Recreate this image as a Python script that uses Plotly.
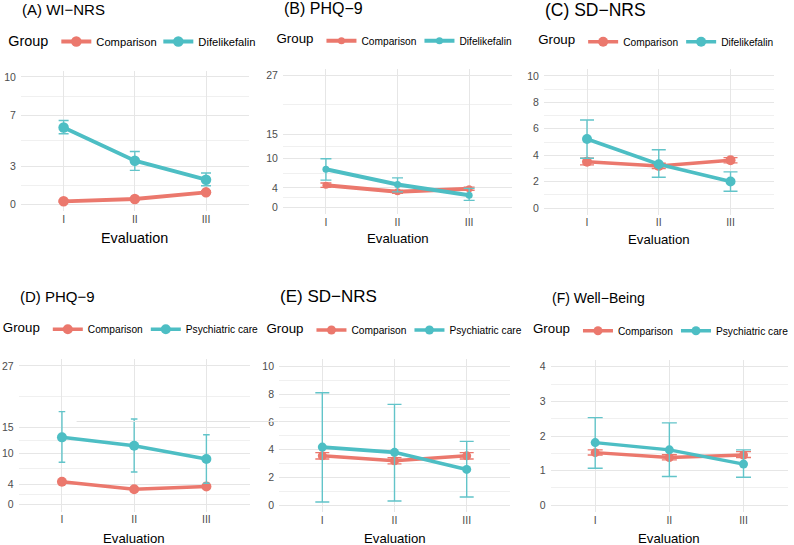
import plotly.graph_objects as go

W, H = 794, 545
evals = ["I", "II", "III"]

# ---- data (means and CI bounds) ----
A_cmp = [0.26, 0.44, 0.96]; A_cmp_lo = [0.18, 0.36, 0.86]; A_cmp_hi = [0.34, 0.52, 1.06]
A_dif = [6.04, 3.44, 1.95]; A_dif_lo = [5.55, 2.68, 1.48]; A_dif_hi = [6.59, 4.16, 2.48]

B_cmp = [4.55, 3.2, 3.8]; B_cmp_lo = [4.1, 2.9, 3.5]; B_cmp_hi = [5.0, 3.45, 4.15]
B_dif = [7.8, 4.69, 2.5]; B_dif_lo = [5.57, 3.18, 1.43]; B_dif_hi = [9.95, 6.04, 3.88]

C_cmp = [3.51, 3.19, 3.62]; C_cmp_lo = [3.27, 3.0, 3.42]; C_cmp_hi = [3.77, 3.39, 3.82]
C_dif = [5.23, 3.32, 2.01]; C_dif_lo = [3.77, 2.34, 1.28]; C_dif_hi = [6.66, 4.42, 2.74]

D_cmp = [4.47, 3.0, 3.55]; D_cmp_lo = [4.2, 2.75, 3.3]; D_cmp_hi = [4.75, 3.25, 3.8]
D_psy = [13.1, 11.48, 8.89]; D_psy_lo = [8.25, 6.36, 4.16]; D_psy_hi = [18.1, 16.67, 13.62]

E_cmp = [3.55, 3.19, 3.55]; E_cmp_lo = [3.32, 2.97, 3.32]; E_cmp_hi = [3.78, 3.41, 3.78]
E_psy = [4.18, 3.8, 2.57]; E_psy_lo = [0.22, 0.29, 0.58]; E_psy_hi = [8.1, 7.26, 4.59]

F_cmp = [1.52, 1.38, 1.45]; F_cmp_lo = [1.45, 1.31, 1.38]; F_cmp_hi = [1.6, 1.46, 1.55]
F_psy = [1.81, 1.6, 1.19]; F_psy_lo = [1.07, 0.83, 0.81]; F_psy_hi = [2.53, 2.38, 1.6]

titles = ["(A) WI\u2212NRS", "(B) PHQ\u22129", "(C) SD\u2212NRS",
          "(D) PHQ\u22129", "(E) SD\u2212NRS", "(F) Well\u2212Being"]
group2 = ["Difelikefalin"] * 3 + ["Psychiatric care"] * 3

y_ticks = [[0, 3, 7, 10], [0, 4, 10, 15, 27], [0, 2, 4, 6, 8, 10],
           [0, 4, 10, 15, 27], [0, 2, 4, 6, 8, 10], [0, 1, 2, 3, 4]]
y_limits = [(0, 10), (0, 27), (0, 10), (0, 27), (0, 10), (0, 4)]

panels = [
    (A_cmp, A_cmp_lo, A_cmp_hi, A_dif, A_dif_lo, A_dif_hi),
    (B_cmp, B_cmp_lo, B_cmp_hi, B_dif, B_dif_lo, B_dif_hi),
    (C_cmp, C_cmp_lo, C_cmp_hi, C_dif, C_dif_lo, C_dif_hi),
    (D_cmp, D_cmp_lo, D_cmp_hi, D_psy, D_psy_lo, D_psy_hi),
    (E_cmp, E_cmp_lo, E_cmp_hi, E_psy, E_psy_lo, E_psy_hi),
    (F_cmp, F_cmp_lo, F_cmp_hi, F_psy, F_psy_lo, F_psy_hi),
]

# ---- layout / style (pixels) ----
boxes = [  # left, right, top, bottom
    (21, 250, 70.5, 211), (284.4, 514.7, 68.7, 214), (546.7, 777.5, 69.2, 214.8),
    (18.7, 251, 359, 511.6), (280.4, 512.6, 359.4, 512), (553.5, 792, 359.8, 512.2)]
title_y = [9.5, 8.5, 9.5, 296.7, 296.7, 298]
title_size = [15, 16, 17.5, 15, 17, 14]
legend_y = [41.5, 40.7, 41.7, 329.3, 330, 330.7]
legend_cx = [134.5, 398, 661, 133, 398, 666]
leg_title_size = [14.4, 13.3, 13.3, 13.3, 13.3, 13.3]
leg_item_size = [11.2, 10.2, 10.2, 10.2, 10.2, 10.2]
cmp_entry_w = [57, 53, 53, 53, 53, 53]
xtitle_y = [238.3, 238.3, 239.3, 538.3, 538.3, 538.3]
xtitle_size = [14.4, 13.2, 13.2, 13.2, 13.2, 13.2]
marker_size = [10.5, 7, 10, 10, 9, 9]
line_w = [3.8, 4, 3.6, 3.5, 3.6, 3.4]
cap_half = [5, 5.5, 7, 3.3, 7, 7.5]

RED = "#EB786D"
TEAL = "#4DBEC4"
TEAL_EB = "#62C4C9"
FONT = "Liberation Sans"

fig = go.Figure()
layout = dict(width=W, height=H, margin=dict(l=0, r=0, t=0, b=0),
              paper_bgcolor="white", plot_bgcolor="white",
              font=dict(family=FONT, color="#4D4D4D"), annotations=[], shapes=[])


def px(x):
    return x / W


def py(y):
    return 1 - y / H


for i, (cm, clo, chi, tm, tlo, thi) in enumerate(panels):
    k = "" if i == 0 else str(i + 1)
    leg = "legend" + k
    l, r, t, b = boxes[i]
    lo, hi = y_limits[i]
    pad = 0.05 * (hi - lo)
    ticks = y_ticks[i]
    minors = [(a + c) / 2 for a, c in zip(ticks[:-1], ticks[1:])]
    layout["xaxis" + k] = dict(
        domain=[px(l), px(r)], anchor="y" + k, type="category",
        categoryorder="array", categoryarray=evals, range=[-0.6, 2.6],
        showgrid=True, gridcolor="#E6E6E6", gridwidth=1, zeroline=False,
        showline=False, ticks="", ticklabelstandoff=0,
        tickfont=dict(size=10.5, color="#4D4D4D", family=FONT))
    layout["yaxis" + k] = dict(
        domain=[py(b), py(t)], anchor="x" + k, range=[lo - pad, hi + pad],
        tickvals=ticks, showgrid=True, gridcolor="#E6E6E6", gridwidth=1,
        zeroline=False, showline=False, ticks="", ticklabelstandoff=4,
        tickfont=dict(size=10.5, color="#4D4D4D", family=FONT),
        minor=dict(tickvals=minors, showgrid=True, gridcolor="#F0F0F0", gridwidth=0.7))
    for j, (name, m, mlo, mhi, col, ecol) in enumerate([
            ("Comparison", cm, clo, chi, RED, RED),
            (group2[i], tm, tlo, thi, TEAL, TEAL_EB)]):
        extra = dict(legendwidth=cmp_entry_w[i]) if j == 0 else {}
        fig.add_trace(go.Scatter(
            x=evals, y=m, mode="lines+markers", name=name,
            xaxis="x" + k, yaxis="y" + k, legend=leg,
            line=dict(color=col, width=line_w[i]),
            marker=dict(color=col, size=marker_size[i]),
            error_y=dict(type="data", symmetric=False,
                         array=[h - v for h, v in zip(mhi, m)],
                         arrayminus=[v - q for v, q in zip(m, mlo)],
                         color=ecol, thickness=1.4, width=cap_half[i]),
            **extra))
    layout[leg] = dict(
        orientation="h", x=px(legend_cx[i]), xanchor="center",
        y=py(legend_y[i]), yanchor="middle", bgcolor="rgba(0,0,0,0)",
        title=dict(text="Group", side="left",
                   font=dict(size=leg_title_size[i], color="black", family=FONT)),
        font=dict(size=leg_item_size[i], color="black", family=FONT),
        itemwidth=30, tracegroupgap=0, traceorder="normal")
    layout["annotations"].append(dict(
        text=titles[i], xref="paper", yref="paper", x=px(l - 1), y=py(title_y[i]),
        xanchor="left", yanchor="middle", showarrow=False,
        font=dict(size=title_size[i], color="black", family=FONT)))
    layout["annotations"].append(dict(
        text="Evaluation", xref="paper", yref="paper", x=px((l + r) / 2), y=py(xtitle_y[i]),
        xanchor="center", yanchor="middle", showarrow=False,
        font=dict(size=xtitle_size[i], color="black", family=FONT)))

# faint stray rule crossing panel D in the source image
layout["shapes"].append(dict(type="line", xref="paper", yref="paper",
                             x0=px(77), x1=px(280), y0=py(421.5), y1=py(421.5),
                             line=dict(color="#E3E3E3", width=1)))

fig.update_layout(**layout)
fig.write_html("out.html")
